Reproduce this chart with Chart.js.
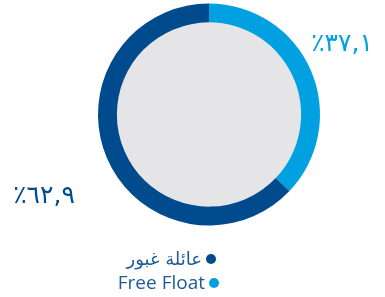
<!DOCTYPE html>
<html><head><meta charset="utf-8">
<script src="https://cdn.jsdelivr.net/npm/chart.js@4"></script>
<style>html,body{margin:0;padding:0;background:#fff;}#wrap{width:385px;height:297px;position:relative;}</style>
</head><body><div id="wrap"><canvas id="c" width="385" height="297"></canvas></div>
<script>
const categories = ['Free Float', 'عائلة غبور'];
const values = [37.1, 62.9];
const colors = ['#00a0e1', '#004b8d'];
const valueLabels = ['٪٣٧,١', '٪٦٢,٩'];
const legendOrder = [1, 0];

const overlay = {
  id: 'overlay',
  beforeDatasetsDraw(chart) {
    const arc = chart.getDatasetMeta(0).data[0];
    const ctx = chart.ctx;
    ctx.save();
    ctx.beginPath();
    ctx.arc(arc.x, arc.y, arc.innerRadius + 1, 0, Math.PI * 2);
    ctx.fillStyle = '#e5e5e8';
    ctx.fill();
    ctx.restore();
  },
  afterDraw(chart) {
    const ctx = chart.ctx;
    ctx.save();
    ctx.textBaseline = 'middle';
    ctx.textAlign = 'center';
    ctx.font = '25px "DejaVu Sans"';
    const pos = [[342, 44], [44, 196]];
    valueLabels.forEach((t, i) => {
      ctx.fillStyle = colors[i];
      ctx.fillText('\u202D' + t + '\u202C', pos[i][0], pos[i][1]);
    });
    // legend
    ctx.textBaseline = 'alphabetic';
    ctx.textAlign = 'right';
    ctx.fillStyle = '#1f5b99';
    const rows = [[211, 259, 265], [214, 283, 289]];
    legendOrder.forEach((idx, r) => {
      const [dx, dy, by] = rows[r];
      ctx.beginPath();
      ctx.arc(dx, dy, 5, 0, Math.PI * 2);
      ctx.fillStyle = colors[idx];
      ctx.fill();
      ctx.fillStyle = '#1f5b99';
      ctx.font = (idx === 1 ? '18px "DejaVu Sans"' : '19px "Open Sans"');
      ctx.fillText(categories[idx], dx - 9, by);
    });
    ctx.restore();
  }
};

new Chart(document.getElementById('c'), {
  type: 'doughnut',
  data: { labels: categories, datasets: [{ data: values, backgroundColor: colors, borderWidth: 0 }] },
  options: {
    responsive: false, animation: false, cutout: '83%',
    layout: { padding: { top: 3, bottom: 71, left: 98, right: 65 } },
    plugins: { legend: { display: false }, tooltip: { enabled: false } }
  },
  plugins: [overlay]
});
</script></body></html>
